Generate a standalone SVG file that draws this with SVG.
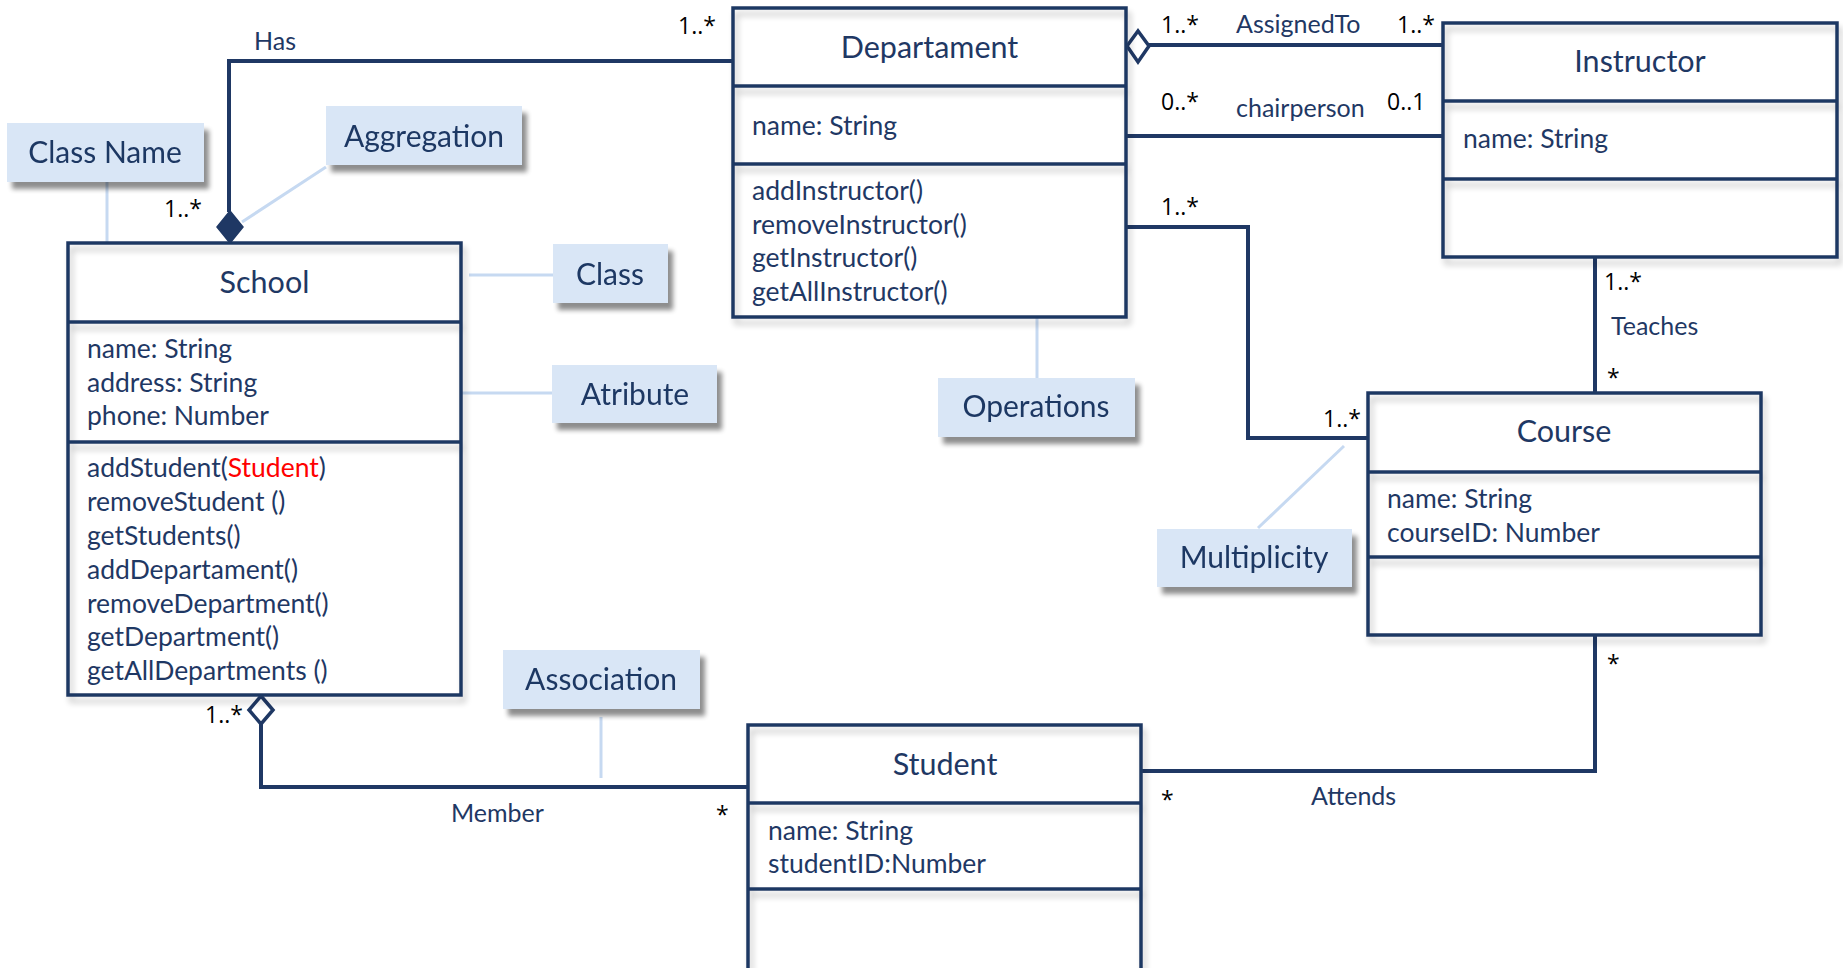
<svg xmlns="http://www.w3.org/2000/svg" width="1843" height="968" viewBox="0 0 1843 968">
  <defs>
    <filter id="boxShadow" x="-5%" y="-5%" width="115%" height="120%">
      <feGaussianBlur in="SourceAlpha" stdDeviation="3"/>
      <feOffset dx="3" dy="6" result="b"/>
      <feComponentTransfer><feFuncA type="linear" slope="0.22"/></feComponentTransfer>
      <feMerge><feMergeNode/><feMergeNode in="SourceGraphic"/></feMerge>
    </filter>
    <filter id="noteShadow" x="-10%" y="-10%" width="130%" height="150%">
      <feGaussianBlur in="SourceAlpha" stdDeviation="2.5"/>
      <feOffset dx="5" dy="7" result="b"/>
      <feComponentTransfer><feFuncA type="linear" slope="0.45"/></feComponentTransfer>
      <feMerge><feMergeNode/><feMergeNode in="SourceGraphic"/></feMerge>
    </filter>
  </defs>
  <style>
    text { font-family: Lato, "Liberation Sans", sans-serif; }
    .frame { fill: none; stroke: #1F3864; stroke-width: 3.5; }
    .body { fill: #ffffff; stroke: none; }
    .title { font-size: 30.5px; fill: #1F3864; text-anchor: middle; }
    .member { font-size: 26.5px; fill: #1F3864; }
    .param { fill: #FF0000; }
    .edge { fill: none; stroke: #1F3864; stroke-width: 4; }
    .open { fill: #ffffff; stroke: #1F3864; stroke-width: 3.5; }
    .solid { fill: #1F3864; stroke: #1F3864; stroke-width: 1.5; }
    .role { font-size: 25px; fill: #1F3864; }
    .mult { font-family: "Open Sans", Lato, sans-serif; font-size: 23px; fill: #000000; }
    .note rect { fill: #D9E6F6; }
    .note text { font-size: 30px; fill: #1F3864; text-anchor: middle; }
    .leader { fill: none; stroke: #C6D9F1; stroke-width: 3; }
  </style>

  <!-- annotation leader lines -->
  <g id="leaders">
    <path class="leader" d="M107,182 V273"/>
    <path class="leader" d="M326,167 L242,222"/>
    <path class="leader" d="M469,275 H553"/>
    <path class="leader" d="M431,393 H552"/>
    <path class="leader" d="M1037,288 V378"/>
    <path class="leader" d="M1344,446 L1258,528"/>
    <path class="leader" d="M601,717 V778"/>
  </g>

  <!-- associations -->
  <g id="connectors">
    <path class="edge" d="M733,61 H229 V212"/>
    <polygon class="solid" points="230,211 243,227 230,243 217,227"/>
    <path class="edge" d="M1149,45 H1443"/>
    <polygon class="open" points="1127,46 1138,31 1149,46 1138,62"/>
    <path class="edge" d="M1126,136 H1443"/>
    <path class="edge" d="M1126,227 H1248 V438 H1368"/>
    <path class="edge" d="M1595,257 V393"/>
    <path class="edge" d="M1141,771 H1595 V635"/>
    <path class="edge" d="M261,724 V787 H748"/>
    <polygon class="open" points="261,696 273,710 261,724 249,710"/>

    <text class="role" x="254" y="50">Has</text>
    <text class="mult" x="678" y="34">1..*</text>
    <text class="mult" x="164" y="217">1..*</text>
    <text class="mult" x="1161" y="33">1..*</text>
    <text class="role" x="1236" y="33">AssignedTo</text>
    <text class="mult" x="1397" y="33">1..*</text>
    <text class="mult" x="1161" y="110">0..*</text>
    <text class="role" x="1236" y="117">chairperson</text>
    <text class="mult" x="1387" y="110">0..1</text>
    <text class="mult" x="1161" y="215">1..*</text>
    <text class="mult" x="1323" y="427">1..*</text>
    <text class="mult" x="1604" y="290">1..*</text>
    <text class="role" x="1611" y="335">Teaches</text>
    <text class="mult" x="1607" y="386">*</text>
    <text class="mult" x="1607" y="672">*</text>
    <text class="mult" x="1161" y="808">*</text>
    <text class="role" x="1311" y="805">Attends</text>
    <text class="role" x="451" y="822">Member</text>
    <text class="mult" x="716" y="823">*</text>
    <text class="mult" x="205" y="723">1..*</text>
  </g>

  <!-- classes -->
  <g id="school">
    <rect class="body" x="68" y="243" width="393" height="452"/>
    <g class="frame" filter="url(#boxShadow)">
      <rect x="68" y="243" width="393" height="452"/>
      <path d="M68,322 H461 M68,442 H461"/>
    </g>
    <text class="title" x="264.5" y="293">School</text>
    <text class="member" x="87" y="358">name: String</text>
    <text class="member" x="87" y="392">address: String</text>
    <text class="member" x="87" y="425">phone: Number</text>
    <text class="member" x="87" y="477">addStudent(<tspan class="param">Student</tspan>)</text>
    <text class="member" x="87" y="511">removeStudent ()</text>
    <text class="member" x="87" y="545">getStudents()</text>
    <text class="member" x="87" y="579">addDepartament()</text>
    <text class="member" x="87" y="613">removeDepartment()</text>
    <text class="member" x="87" y="646">getDepartment()</text>
    <text class="member" x="87" y="680">getAllDepartments ()</text>
  </g>

  <g id="departament">
    <rect class="body" x="733" y="8" width="393" height="309"/>
    <g class="frame" filter="url(#boxShadow)">
      <rect x="733" y="8" width="393" height="309"/>
      <path d="M733,86 H1126 M733,164 H1126"/>
    </g>
    <text class="title" x="929.5" y="58">Departament</text>
    <text class="member" x="752" y="135">name: String</text>
    <text class="member" x="752" y="200">addInstructor()</text>
    <text class="member" x="752" y="234">removeInstructor()</text>
    <text class="member" x="752" y="267">getInstructor()</text>
    <text class="member" x="752" y="301">getAllInstructor()</text>
  </g>

  <g id="instructor">
    <rect class="body" x="1443" y="23" width="394" height="234"/>
    <g class="frame" filter="url(#boxShadow)">
      <rect x="1443" y="23" width="394" height="234"/>
      <path d="M1443,101 H1837 M1443,179 H1837"/>
    </g>
    <text class="title" x="1640" y="72">Instructor</text>
    <text class="member" x="1463" y="148">name: String</text>
  </g>

  <g id="course">
    <rect class="body" x="1368" y="393" width="393" height="242"/>
    <g class="frame" filter="url(#boxShadow)">
      <rect x="1368" y="393" width="393" height="242"/>
      <path d="M1368,472 H1761 M1368,557 H1761"/>
    </g>
    <text class="title" x="1564" y="442">Course</text>
    <text class="member" x="1387" y="508">name: String</text>
    <text class="member" x="1387" y="542">courseID: Number</text>
  </g>

  <g id="student">
    <rect class="body" x="748" y="725" width="393" height="243"/>
    <g class="frame" filter="url(#boxShadow)">
      <path d="M748,970 V725 H1141 V970"/>
      <path d="M748,803 H1141 M748,889 H1141"/>
    </g>
    <text class="title" x="945" y="775">Student</text>
    <text class="member" x="768" y="840">name: String</text>
    <text class="member" x="768" y="873">studentID:Number</text>
  </g>

  <!-- annotation notes -->
  <g id="note-class-name" class="note" filter="url(#noteShadow)">
    <rect x="7" y="123" width="197" height="59"/>
    <text x="105" y="163">Class Name</text>
  </g>
  <g id="note-aggregation" class="note" filter="url(#noteShadow)">
    <rect x="326" y="106" width="196" height="59"/>
    <text x="424" y="147">Aggregation</text>
  </g>
  <g id="note-class" class="note" filter="url(#noteShadow)">
    <rect x="553" y="244" width="115" height="59"/>
    <text x="610" y="285">Class</text>
  </g>
  <g id="note-atribute" class="note" filter="url(#noteShadow)">
    <rect x="552" y="365" width="165" height="58"/>
    <text x="635" y="405">Atribute</text>
  </g>
  <g id="note-operations" class="note" filter="url(#noteShadow)">
    <rect x="938" y="378" width="197" height="59"/>
    <text x="1036" y="417">Operations</text>
  </g>
  <g id="note-multiplicity" class="note" filter="url(#noteShadow)">
    <rect x="1157" y="529" width="195" height="58"/>
    <text x="1254" y="568">Multiplicity</text>
  </g>
  <g id="note-association" class="note" filter="url(#noteShadow)">
    <rect x="503" y="650" width="197" height="59"/>
    <text x="601" y="690">Association</text>
  </g>
</svg>
